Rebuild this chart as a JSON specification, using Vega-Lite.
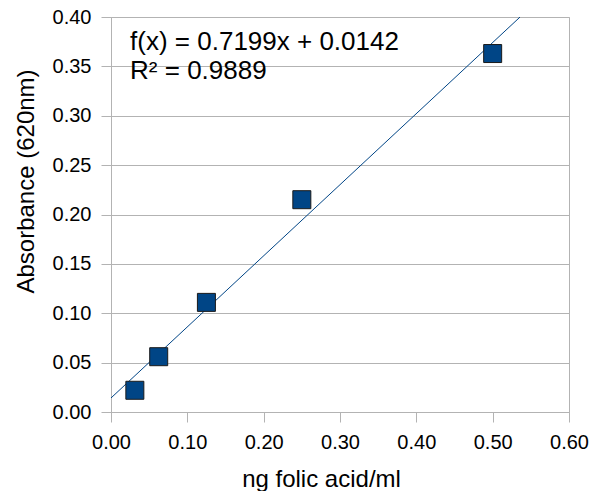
{
  "$schema": "https://vega.github.io/schema/vega-lite/v6.json",
  "width": 458,
  "height": 395,
  "autosize": {"type": "none"},
  "padding": {"left": 111, "top": 17, "right": 36, "bottom": 79},
  "background": "white",
  "config": {
    "view": {"stroke": "#b3b3b3", "strokeWidth": 1},
    "font": "Liberation Sans",
    "axis": {
      "labelFont": "Liberation Sans",
      "titleFont": "Liberation Sans",
      "labelFontSize": 20,
      "titleFontSize": 24,
      "labelColor": "#000000",
      "titleColor": "#000000",
      "titleFontWeight": "normal",
      "domainColor": "#b3b3b3",
      "tickColor": "#b3b3b3",
      "gridColor": "#b3b3b3",
      "tickSize": 10,
      "labelFlush": false,
      "labelOverlap": false
    }
  },
  "datasets": {
    "pts": [
      {"conc": 0.03125, "abs": 0.022},
      {"conc": 0.0625, "abs": 0.056},
      {"conc": 0.125, "abs": 0.111},
      {"conc": 0.25, "abs": 0.215},
      {"conc": 0.5, "abs": 0.363}
    ],
    "fit": [
      {"conc": 0.0, "abs": 0.0142},
      {"conc": 0.5359, "abs": 0.4}
    ],
    "labels": [
      {"conc": 0.025, "abs": 0.375, "text": "f(x) = 0.7199x + 0.0142"},
      {"conc": 0.025, "abs": 0.345, "text": "R² = 0.9889"}
    ]
  },
  "layer": [
    {
      "data": {"name": "fit"},
      "mark": {"type": "line", "color": "#004586", "strokeWidth": 1, "clip": true},
      "encoding": {
        "x": {"field": "conc", "type": "quantitative", "scale": {"domain": [0, 0.6], "nice": false},
          "axis": {"title": "ng folic acid/ml", "values": [0, 0.1, 0.2, 0.3, 0.4, 0.5, 0.6], "format": ".2f", "grid": false, "labelPadding": 10,
            "titleX": 210, "titleY": 74, "titleAlign": "center", "titleBaseline": "alphabetic"}},
        "y": {"field": "abs", "type": "quantitative", "scale": {"domain": [0, 0.4], "nice": false},
          "axis": {"title": "Absorbance (620nm)", "values": [0, 0.05, 0.1, 0.15, 0.2, 0.25, 0.3, 0.35, 0.4], "format": ".2f", "grid": true, "labelPadding": 10,
            "titleX": -78, "titleY": 164, "titleAlign": "center", "titleBaseline": "alphabetic", "titleAngle": 270}}
      }
    },
    {
      "data": {"name": "pts"},
      "mark": {"type": "square", "filled": true, "color": "#004586", "stroke": "#1a1a1a", "strokeWidth": 1, "size": 324, "opacity": 1},
      "encoding": {
        "x": {"field": "conc", "type": "quantitative"},
        "y": {"field": "abs", "type": "quantitative"}
      }
    },
    {
      "data": {"name": "labels"},
      "mark": {"type": "text", "align": "left", "baseline": "middle", "fontSize": 26, "font": "Liberation Sans", "color": "#000000"},
      "encoding": {
        "x": {"field": "conc", "type": "quantitative"},
        "y": {"field": "abs", "type": "quantitative"},
        "text": {"field": "text"}
      }
    }
  ]
}
